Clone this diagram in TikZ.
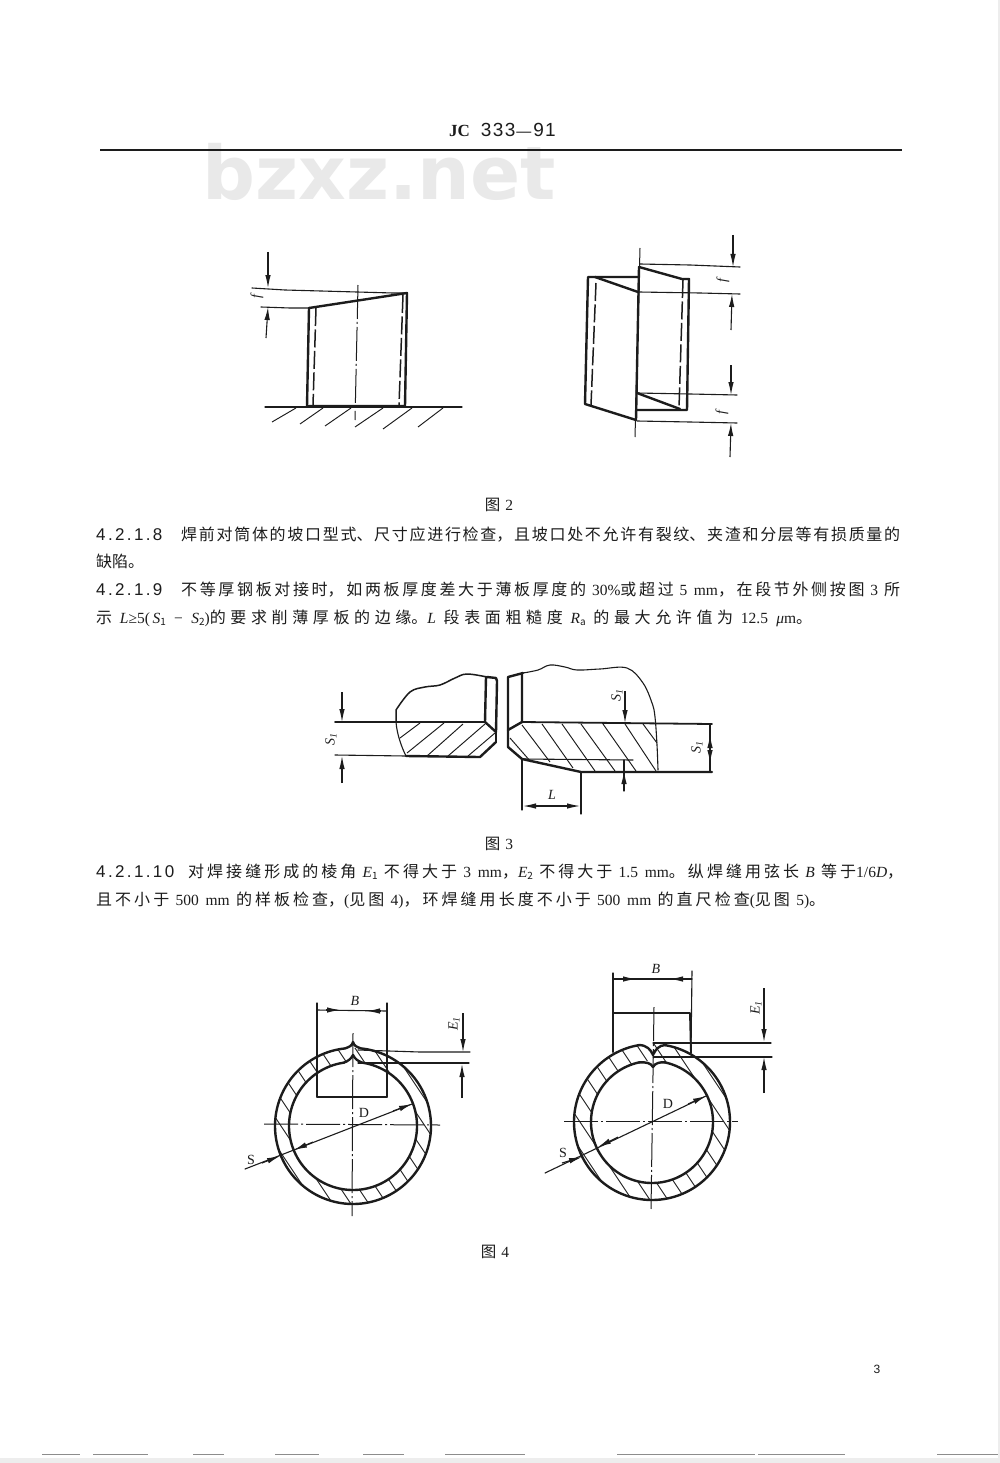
\documentclass[tikz,border=0pt]{standalone}
\usepackage{fontspec}
\usetikzlibrary{arrows.meta}
\setmainfont{Liberation Serif}
\newfontfamily\cjk{Noto Sans CJK SC}
\newfontfamily\hdsans{Liberation Sans}
\newfontfamily\wmfont{DejaVu Sans}[BoldFont=* Bold]
\XeTeXlinebreaklocale "zh"
\XeTeXlinebreakskip=0pt plus 2pt minus 0.5pt
\definecolor{ink}{HTML}{1C1C1C}
\definecolor{wm}{HTML}{E9E9E9}
\newcommand{\dn}[1]{\raisebox{-2pt}{\fontsize{10}{10}\selectfont #1}}
\newcommand{\num}[1]{{\hdsans\fontsize{17}{17}\selectfont\addfontfeatures{LetterSpace=14}#1}}
\newcommand{\la}[1]{{\rmfamily\fontsize{15.5}{15.5}\selectfont #1}}
\newcommand{\lai}[1]{{\rmfamily\itshape\fontsize{15.5}{15.5}\selectfont #1}}
\newcommand{\jline}[2]{\parbox[b]{#1}{\cjk\fontsize{16}{18}\selectfont\tolerance=9999\hbadness=10000\hfuzz=4pt\parfillskip=0pt\noindent #2\strut}}
\tikzset{
  x=1pt,y=-1pt,
  thk/.style={draw=ink,line width=2.4pt,line cap=round,line join=round},
  thn/.style={draw=ink,line width=1.1pt,line cap=round,line join=round},
  dsh/.style={draw=ink,line width=1.5pt,dash pattern=on 18pt off 3.5pt},
  ctr/.style={draw=ink,line width=1pt,dash pattern=on 34pt off 3pt on 2pt off 3pt},
  hatchline/.style={draw=ink,line width=0.95pt},
  headarrow/.style={draw=ink,line width=1.1pt,-{Latex[length=13pt,width=5.5pt]}},
  para/.style={inner sep=0pt,anchor=base west,text=ink,font=\cjk\fontsize{16}{18}\selectfont},
  lab/.style={inner sep=0pt,text=ink,font=\rmfamily\itshape\fontsize{14}{14}\selectfont},
  labup/.style={inner sep=0pt,text=ink,font=\rmfamily\fontsize{14}{14}\selectfont},
  captext/.style={inner sep=0pt,text=ink,font=\cjk\fontsize{15.5}{15.5}\selectfont},
}
\begin{document}
\begin{tikzpicture}
\useasboundingbox (0,0) rectangle (1000,1463);
\fill[white] (0,0) rectangle (1000,1463);
% page edge shading
\fill[black!7] (0,1458) rectangle (1000,1463);
\fill[black!7] (998,0) rectangle (1000,1463);
% watermark
\node[inner sep=0pt,anchor=base,text=wm,font=\wmfont\bfseries\fontsize{74}{74}\selectfont] (mark) at (379,200) {bzxz.net};
% header
\node[inner sep=0pt,text=ink,anchor=base west] (pagehead) at (449,137) {{\rmfamily\bfseries\fontsize{17}{17}\selectfont JC}\hspace{11pt}{\hdsans\fontsize{19}{19}\selectfont\addfontfeatures{LetterSpace=7}333}\hspace{1pt}{\hdsans\fontsize{15}{15}\selectfont —}\hspace{2pt}{\hdsans\fontsize{19}{19}\selectfont\addfontfeatures{LetterSpace=7}91}};
\draw[ink,line width=1.6pt] (100,150) -- (902,150);

% ===== Figure 2 left =====
\draw[thn,line width=1.2pt] (265,407) -- (462,407);
\foreach \a/\b/\c/\d in {272/422/296/408,300/424/323/408,325/426/351/408,355/427/383/408,383/429/412/408,418/427/443/408}
  \draw[hatchline] (\a,\b) -- (\c,\d);
\draw[dsh] (316,308) -- (313,405);
\draw[dsh] (403,295) -- (399,405);
\draw[ctr] (358,285) -- (355,420);
\draw[thk] (307,406) -- (309,308) -- (407,293) -- (405,406) -- cycle;
\draw[thn] (252,288) -- (285,290) -- (393,293) -- (407,293);
\draw[thn] (261,307) -- (290,308) -- (309,308);
\draw[headarrow] (268,252) -- (268,288);
\draw[headarrow] (266,338) -- (268,307);
\node[lab,rotate=90] (f1) at (257,297) {f};

% ===== Figure 2 right =====
\draw[dsh] (596,283) -- (591,405);
\draw[dsh] (683,280) -- (679,408);
\draw[ctr] (640,248) -- (635,437);
\draw[thk] (595,277) -- (638,292);
\draw[thk] (638,277) -- (588,277) -- (585,404) -- (636,420);
\draw[thk] (639,267) -- (636,420);
\draw[thk] (639,267) -- (682,279) -- (689,279) -- (687,410) -- (636,410);
\draw[thk] (637,393) -- (680,409);
\draw[thn] (640,264) -- (690,265) -- (740,267);
\draw[thn] (639,292) -- (700,293) -- (740,294);
\draw[thn] (637,393) -- (690,394) -- (737,395);
\draw[thn] (637,421) -- (690,422) -- (737,423);
\draw[headarrow] (733,235) -- (733,267);
\draw[headarrow] (731,330) -- (732,294);
\draw[headarrow] (731,365) -- (731,395);
\draw[headarrow] (730,457) -- (731,423);
\node[lab,rotate=90] (f2) at (723,281) {f};
\node[lab,rotate=90] (f3) at (722,413) {f};

% caption and paragraphs
\node[captext] (c2) at (499,505) {图\hspace{5pt}\la{2}};
\node[para] (p1) at (96,540) {\makebox[85pt][l]{\num{4.2.1.8}}\jline{719pt}{焊前对筒体的坡口型式、尺寸应进行检查，且坡口处不允许有裂纹、夹渣和分层等有损质量的}};
\node[para] (p2) at (96,567) {缺陷。};
\node[para] (p3) at (96,595) {\makebox[85pt][l]{\num{4.2.1.9}}\jline{719pt}{不等厚钢板对接时，如两板厚度差大于薄板厚度的 \la{30\%}或超过 \la{5 mm}，在段节外侧按图 \la{3} 所}};
\node[para] (p4) at (96,623) {\jline{716pt}{示 \lai{L}\la{≥5(\,}\lai{S}\dn{1}\la{ − }\lai{S}\dn{2}\la{)}的要求削薄厚板的边缘。\lai{L} 段表面粗糙度 \lai{R}\dn{a} 的最大允许值为 \la{12.5 }\lai{μ}\la{m}。}};

% ===== Figure 3 =====
% hatch
\foreach \a/\b/\c/\d in {400/738/420/723,407/753/444/723,427/756/463/724,448/756/485/724,468/756/495/733,510/738/531/762,522/725/550/762,542/724/573/768,562/724/595/771,581/724/615/771,603/724/636/771,625/724/656/771,643/724/657/743}
  \draw[hatchline] (\a,\b) -- (\c,\d);
% left plate
\draw[thn,line width=1.5pt] (396,722) -- (396,710) plot[smooth,tension=.6] coordinates {(396,710) (410,692) (425,687) (440,685) (455,678) (467,674) (487,677)};
\draw[thn] (396,722) .. controls (397,735) and (402,748) .. (406,756);
\draw[thk] (487,677) -- (496,678) -- (497,681) -- (496,732) -- (485,722) -- (486,677);
\draw[thk] (496,742) -- (480,757) -- (406,756);
\draw[thk] (496,732) -- (496,742);
\draw[thn,line width=1.7pt] (335,722) -- (485,722);
\draw[thn] (335,755) -- (406,756);
\draw[headarrow] (342,692) -- (342,722);
\draw[headarrow] (342,783) -- (342,756);
\node[lab,rotate=90] (s1) at (331,739) {S\textsubscript{1}};
% right plate
\draw[thk] (523,673) -- (508,677) -- (508,730) -- (522,722) -- (522,675);
\draw[thk] (508,730) -- (508,747) -- (522,759) -- (581,772) -- (712,772);
\draw[thk,line width=1.8pt] (522,722) -- (712,724);
\draw[thn] (522,759) -- (633,760);
\draw[thn] plot[smooth,tension=.6] coordinates {(523,673) (538,670) (550,665) (565,667) (577,670) (600,669) (627,668) (643,683) (652,703) (655,717) (657,745) (658,770)};
\draw[thn] (710,724) -- (710,772);
\draw[headarrow] (710,748) -- (710,735);
\draw[headarrow] (710,749) -- (710,763);
\node[lab,rotate=90] (s2) at (697,747) {S\textsubscript{1}};
\draw[thn] (624,760) -- (624,791);
\draw[headarrow] (625,691) -- (625,723);
\draw[headarrow] (624,791) -- (624,771);
\node[lab,rotate=90] (s3) at (617,695) {S\textsubscript{1}};
\draw[thn] (522,759) -- (522,810);
\draw[thn] (581,772) -- (581,814);
\draw[headarrow] (537,806) -- (523,806);
\draw[headarrow] (566,806) -- (580,806);
\draw[thn] (537,806) -- (566,806);
\node[lab] (l1) at (552,795) {L};

\node[captext] (c3) at (499,844) {图\hspace{5pt}\la{3}};
\node[para] (p5) at (96,877) {\makebox[92pt][l]{\num{4.2.1.10}}\jline{715pt}{对焊接缝形成的棱角 \lai{E}\dn{1} 不得大于 \la{3 mm}，\lai{E}\dn{2} 不得大于 \la{1.5 mm}。纵焊缝用弦长 \lai{B} 等于\la{1/6}\lai{D}，}};
\node[para] (p6) at (96,905) {\jline{729pt}{且不小于 \la{500 mm} 的样板检查，\la{(}见图 \la{4)}，环焊缝用长度不小于 \la{500 mm} 的直尺检查\la{(}见图 \la{5)}。}};

% ===== Figure 4 left =====
\begin{scope}[even odd rule]
  \clip (353,1126) circle[radius=78] (353,1126) circle[radius=64];
  \foreach \k in {-7,...,7}
    \draw[hatchline] ({353+\k*18-110},{1126-165}) -- ({353+\k*18+110},{1126+165});
\end{scope}
\draw[thk] [domain=-264:84,samples=140,variable=\t] plot ({353+78*cos(\t)},{1126-78*sin(\t)});
\draw[thk] [domain=-262:82,samples=140,variable=\t] plot ({353+64*cos(\t)},{1126-64*sin(\t)});
\draw[thk] (361,1048.4) .. controls (357,1047) and (354,1046) .. (353,1042) .. controls (352,1046) and (349,1047) .. (345,1048.4);
\draw[thk] (362,1062.6) .. controls (358,1061) and (355,1059) .. (353,1055) .. controls (351,1059) and (348,1061) .. (344,1062.6);
\draw[thn] (317,1003) -- (317,1097);
\draw[thn] (387,1003) -- (387,1097);
\draw[thn,line width=1.5pt] (317,1067) -- (317,1097) -- (387,1097) -- (387,1067);
\draw[thn] (317,1010) -- (387,1011);
\draw[headarrow] (326,1010) -- (340,1010);
\draw[headarrow] (381,1011) -- (367,1011);
\node[lab] (b1) at (355,1001) {B};
\draw[thn] (358,1050) -- (420,1052) -- (470,1052);
\draw[thn] (358,1063) -- (469,1063);
\draw[headarrow] (463,1013) -- (463,1052);
\draw[headarrow] (462,1098) -- (462,1064);
\node[lab,rotate=90] (e1) at (454,1024) {E\textsubscript{1}};
\draw[ctr] (264,1124) -- (440,1125);
\draw[ctr] (353,1033) -- (352,1216);
\draw[thn] (245,1169) -- (412,1104);
\draw[headarrow] (393,1111) -- (412,1104);
\draw[headarrow] (313,1142) -- (294,1150);
\draw[headarrow] (262,1163) -- (280,1156);
\node[labup] (d1) at (364,1113) {D};
\node[labup] (s4) at (251,1160) {S};

% ===== Figure 4 right =====
\begin{scope}[even odd rule]
  \clip (652,1122) circle[radius=78] (652,1122) circle[radius=61];
  \foreach \k in {-7,...,7}
    \draw[hatchline] ({652+\k*18-110},{1122-165}) -- ({652+\k*18+110},{1122+165});
\end{scope}
\draw[thk] [domain=-260:80,samples=140,variable=\t] plot ({652+78*cos(\t)},{1122-78*sin(\t)});
\draw[thk] [domain=-258:78,samples=140,variable=\t] plot ({652+61*cos(\t)},{1122-61*sin(\t)});
\draw[thk] (665.5,1045) .. controls (659,1045) and (655,1050) .. (653,1055) .. controls (651,1050) and (647,1045) .. (638.5,1045);
\draw[thk] (664.7,1062.3) .. controls (660,1062) and (655,1063) .. (653,1067) .. controls (651,1063) and (646,1062) .. (639.3,1062.3);
\draw[thn] (613,973) -- (613,1052);
\draw[thn] (692,971) -- (691,1053);
\draw[thk,line width=1.9pt] (613,1052) -- (613,1013) -- (690,1013) -- (691,1053);
\draw[thn] (613,979) -- (692,979);
\draw[headarrow] (623,979) -- (636,979);
\draw[headarrow] (683,979) -- (670,979);
\node[lab] (b2) at (656,969) {B};
\draw[ctr] (654,1007) -- (651,1210);
\draw[thn] (653,1043) -- (771,1043);
\draw[thn] (653,1057) -- (772,1057);
\draw[headarrow] (764,988) -- (764,1042);
\draw[headarrow] (764,1093) -- (764,1057);
\node[lab,rotate=90] (e2) at (756,1008) {E\textsubscript{1}};
\draw[ctr] (564,1121) -- (738,1121);
\draw[thn] (545,1173) -- (706,1096);
\draw[headarrow] (688,1104) -- (706,1096);
\draw[headarrow] (618,1137) -- (598,1147);
\draw[headarrow] (562,1163) -- (582,1157);
\node[labup] (d2) at (668,1104) {D};
\node[labup] (s5) at (563,1153) {S};

\node[captext] (c4) at (495,1252) {图\hspace{5pt}\la{4}};
\node[inner sep=0pt,text=ink,font=\hdsans\fontsize{12}{12}\selectfont] (pg) at (877,1369) {3};

% scan dashes at the foot of the page
\foreach \a/\b in {42/80,93/148,193/224,275/319,363/404,445/525,617/755,758/845,937/998}
  \draw[black!45,line width=1pt] (\a,1454) -- (\b,1454);
\end{tikzpicture}
\end{document}
